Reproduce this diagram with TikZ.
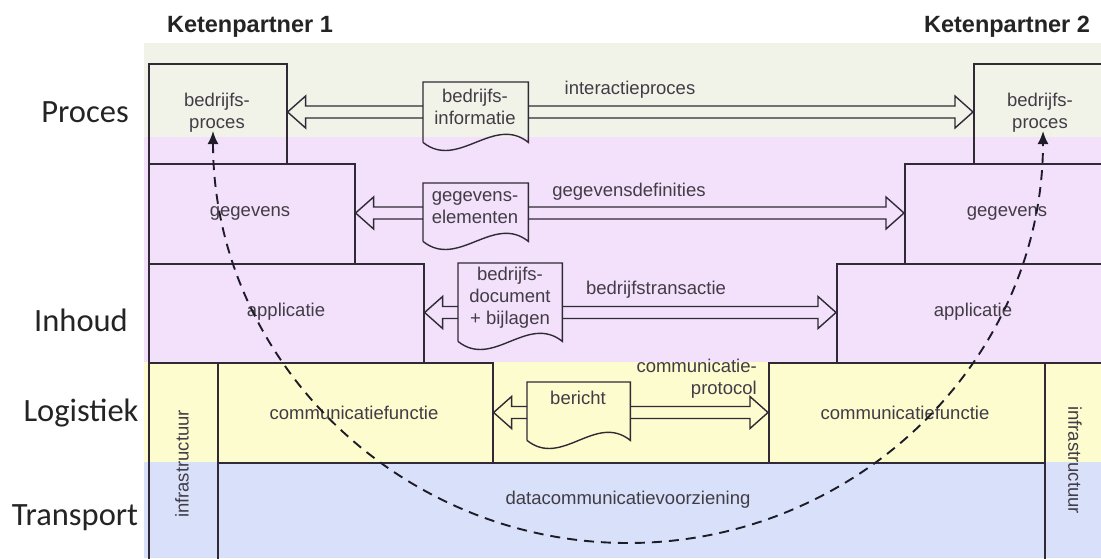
\documentclass[tikz,border=0pt]{standalone}
\usepackage{fontspec}
\setmainfont{Liberation Sans}
\newfontfamily\calib{Carlito}
\usetikzlibrary{calc,arrows.meta}
\definecolor{bandP}{RGB}{241,243,233}
\definecolor{bandI}{RGB}{243,224,251}
\definecolor{bandL}{RGB}{252,252,206}
\definecolor{bandT}{RGB}{216,225,249}
\definecolor{edge}{RGB}{48,42,54}
\definecolor{txt}{RGB}{66,60,70}
\definecolor{lay}{RGB}{36,36,36}
\definecolor{curvec}{RGB}{30,28,40}
\newcommand\hollowL[2]{% #1 tail, #2 tip (tip to the left)
  \draw[harrow] ($(#1)+(0,-6)$) -- ($(#2)+(18,-6)$) -- ($(#2)+(18,-16)$) -- (#2) -- ($(#2)+(18,16)$) -- ($(#2)+(18,6)$) -- ($(#1)+(0,6)$);}
\newcommand\hollowR[2]{% #1 tail, #2 tip (tip to the right)
  \draw[harrow] ($(#1)+(0,-6)$) -- ($(#2)+(-18,-6)$) -- ($(#2)+(-18,-16)$) -- (#2) -- ($(#2)+(-18,16)$) -- ($(#2)+(-18,6)$) -- ($(#1)+(0,6)$);}
\newcommand\docoutline[1]{%
  \draw[docline] (#1.south west) -- (#1.north west) -- (#1.north east) -- (#1.south east)
    .. controls ($(#1.south east)+(-35,-28)$) and ($(#1.south west)+(35,28)$) .. (#1.south west);}
\begin{document}
\begin{tikzpicture}[x=1pt,y=-1pt,
  box/.style={draw=edge, line width=1.6pt, rectangle, inner sep=0pt, anchor=north west},
  docshape/.style={rectangle, inner sep=0pt, anchor=north west},
  lbl/.style={font=\fontsize{18.5}{22}\selectfont, text=txt, align=center, inner sep=0pt},
  layer/.style={font=\calib\fontsize{32.5}{38}\selectfont, text=lay, inner sep=0pt},
  head/.style={font=\bfseries\fontsize{23.5}{28}\selectfont, text=lay, inner sep=0pt},
  harrow/.style={draw=edge, line width=1.4pt, line join=miter},
  docline/.style={draw=edge, line width=1.4pt},
  curve/.style={draw=curvec, line width=1.9pt, dash pattern=on 10pt off 7pt, {Latex[length=13pt,width=11pt]}-{Latex[length=13pt,width=11pt]}}
]
\useasboundingbox (0,0) rectangle (1101,558);
\clip (0,0) rectangle (1101,558);
\fill[white] (0,0) rectangle (1101,558);
% bands
\fill[bandP] (144,43) rectangle (1101,137);
\fill[bandI] (144,137) rectangle (1101,362);
\fill[bandL] (144,362) rectangle (1101,462);
\fill[bandT] (144,462) rectangle (1101,558);
% headers and layer names
\node[head] (kp1) at (250,27) {Ketenpartner 1};
\node[head] (kp2) at (1007,27) {Ketenpartner 2};
\node[layer] (lP) at (85,112) {Proces};
\node[layer] (lI) at (81,320) {Inhoud};
\node[layer] (lL) at (81,413) {Logistiek};
\node[layer] (lT) at (75,518) {Transport};
% boxes
\node[box, minimum width=138, minimum height=100] (bp1) at (148,63) {};
\node[box, minimum width=206, minimum height=100] (g1) at (148,163) {};
\node[box, minimum width=275, minimum height=99] (a1) at (148,263) {};
\node[box, minimum width=69, minimum height=220] (inf1) at (148,362) {};
\node[box, minimum width=275, minimum height=100] (c1) at (217,362) {};
\node[box, minimum width=827, minimum height=120] (dc) at (217,462) {};
\node[box, minimum width=276, minimum height=100] (c2) at (768,362) {};
\node[box, minimum width=64, minimum height=220] (inf2) at (1044,362) {};
\node[box, minimum width=272, minimum height=99] (a2) at (836,263) {};
\node[box, minimum width=204, minimum height=100] (g2) at (904,163) {};
\node[box, minimum width=135, minimum height=100] (bp2) at (973,63) {};
% box texts
\node[lbl] (tbp1) at (217,113) {bedrijfs-\\proces};
\node[lbl] (tg1) at (250,213) {gegevens};
\node[lbl] (ta1) at (286,312) {applicatie};
\node[lbl, rotate=90] (tinf1) at (182,464) {infrastructuur};
\node[lbl] (tc1) at (354,413) {communicatiefunctie};
\node[lbl] (tdc) at (628,500) {datacommunicatievoorziening};
\node[lbl] (tc2) at (905,413) {communicatiefunctie};
\node[lbl, rotate=-90] (tinf2) at (1075,460) {infrastructuur};
\node[lbl] (ta2) at (973,312) {applicatie};
\node[lbl] (tg2) at (1007,213) {gegevens};
\node[lbl] (tbp2) at (1040,113) {bedrijfs-\\proces};
% documents
\node[docshape, minimum width=105, minimum height=60] (d1) at (423,82) {};
\node[docshape, minimum width=105, minimum height=58] (d2) at (423,183) {};
\node[docshape, minimum width=104, minimum height=78] (d3) at (458,263) {};
\node[docshape, minimum width=103, minimum height=58] (d4) at (527,382) {};
\docoutline{d1}
\docoutline{d2}
\docoutline{d3}
\docoutline{d4}
\node[lbl] (td1) at (475,106.5) {bedrijfs-\\informatie};
\node[lbl] (td2) at (475,207.5) {gegevens-\\elementen};
\node[lbl] (td3) at (510,297.5) {bedrijfs-\\document\\+ bijlagen};
\node[lbl] (td4) at (578,398) {bericht};
% row levels
\coordinate (rP) at (0,112);
\coordinate (rG) at (0,213);
\coordinate (rA) at (0,312.5);
\coordinate (rL) at (0,412.5);
\coordinate (pL0) at (d1.west |- rP); \coordinate (pL1) at (bp1.east |- rP);
\coordinate (pR0) at (d1.east |- rP); \coordinate (pR1) at (bp2.west |- rP);
\coordinate (gL0) at (d2.west |- rG); \coordinate (gL1) at (g1.east |- rG);
\coordinate (gR0) at (d2.east |- rG); \coordinate (gR1) at (g2.west |- rG);
\coordinate (aL0) at (d3.west |- rA); \coordinate (aL1) at (a1.east |- rA);
\coordinate (aR0) at (d3.east |- rA); \coordinate (aR1) at (a2.west |- rA);
\coordinate (lL0) at (d4.west |- rL); \coordinate (lL1) at (c1.east |- rL);
\coordinate (lR0) at (d4.east |- rL); \coordinate (lR1) at (c2.west |- rL);
\hollowL{pL0}{pL1} \hollowR{pR0}{pR1}
\hollowL{gL0}{gL1} \hollowR{gR0}{gR1}
\hollowL{aL0}{aL1} \hollowR{aR0}{aR1}
\hollowL{lL0}{lL1} \hollowR{lR0}{lR1}
% arrow labels
\node[lbl] (lab1) at (630,90) {interactieproces};
\node[lbl] (lab2) at (629,192) {gegevensdefinities};
\node[lbl] (lab3) at (656,290) {bedrijfstransactie};
\node[lbl, align=right, anchor=east] (lab4) at (757,379) {communicatie-\\protocol};
% dashed curve
\coordinate (cs) at (213,131);
\coordinate (cb) at (628,543);
\coordinate (ce) at (1043,131);
\draw[curve] (cs) .. controls (213,359) and (399,543) .. (cb) .. controls (857,543) and (1043,359) .. (ce);
\end{tikzpicture}
\end{document}
